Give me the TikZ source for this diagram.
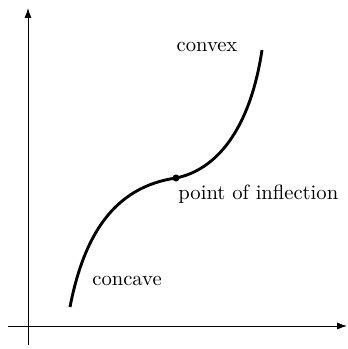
\documentclass[tikz,border=0pt]{standalone}
\usepackage{amsmath, amssymb}
\usepackage{tikz}
\usetikzlibrary{calc, arrows.meta, positioning}

\begin{document}
\begin{tikzpicture}[>={Latex[length=4.8pt,width=3.4pt]}, x=0.485pt, y=-0.485pt]
    \useasboundingbox (0,0) rectangle (347,349);
    % Hệ trục
    \draw[->, line width=0.45pt] (8,326) -- (347,326);
    \draw[->, line width=0.45pt] (28,345) -- (28,8);

    % Đường cong
    \draw[line width=1.4pt] (70,307) .. controls (84,235) and (114,187) .. (176,178)
        .. controls (216,170) and (250,130) .. (262,50);
    \node[circle, fill=black, inner sep=0pt, minimum size=3.4pt] (ip) at (176,178) {};

    % Nhãn
    \node[anchor=base] (lblconvex) at (207,51.5) {convex};
    \node[anchor=base west, inner sep=0pt] (lblpoint) at (178,200) {point of inflection};
    \node[anchor=base] (lblconcave) at (127,285.5) {concave};
\end{tikzpicture}
\end{document}
